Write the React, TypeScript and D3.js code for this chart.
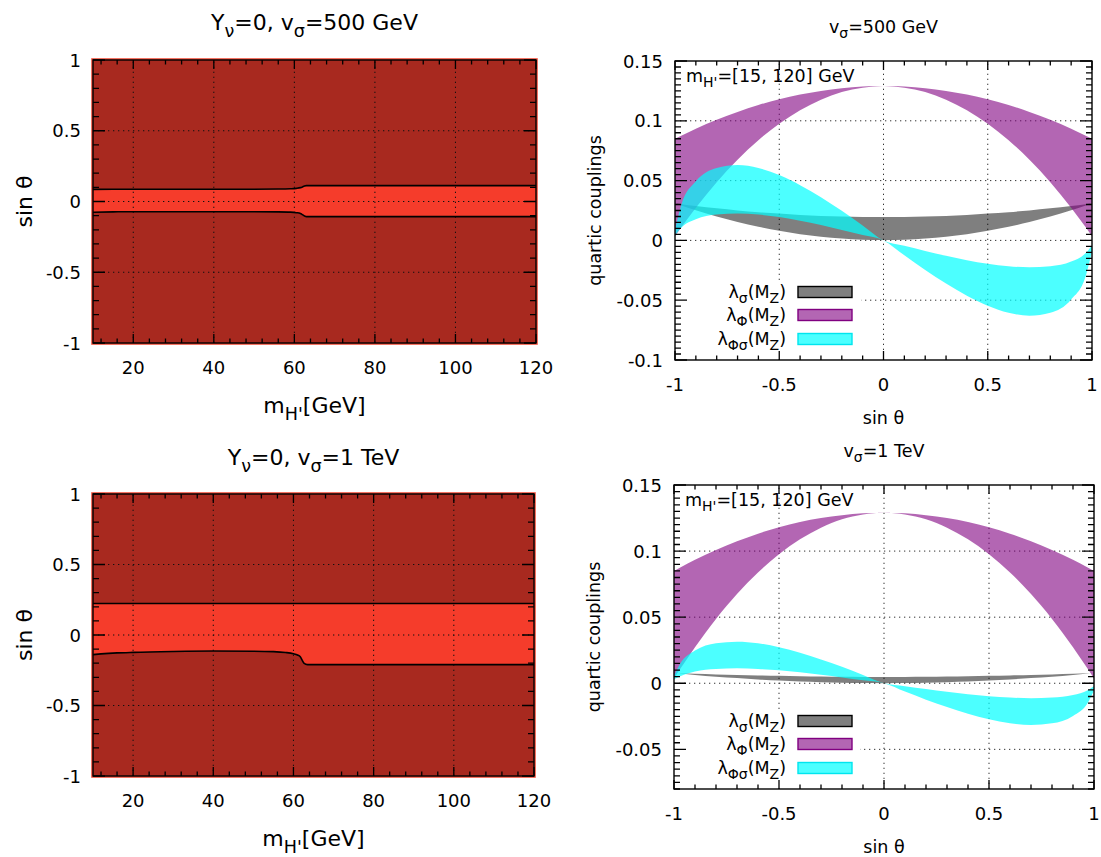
import React from 'react';
import * as d3 from 'd3';

const FONT = '"DejaVu Sans", Verdana, sans-serif';

// ---------- Left panels: allowed band in (m_H', sin theta) ----------
const massTop = [10, 15, 20, 40, 50, 56, 59, 60.5, 61.5, 62, 62.5, 63, 120];
const bandTopUpper = [0.086, 0.087, 0.087, 0.087, 0.087, 0.088, 0.09, 0.093, 0.098, 0.103, 0.109, 0.112, 0.112];
const bandTopLower = [-0.076, -0.073, -0.072, -0.072, -0.072, -0.073, -0.075, -0.079, -0.085, -0.093, -0.102, -0.107, -0.107];

const massBottom = [10, 12, 16, 20, 30, 40, 50, 55, 58, 60, 61, 61.7, 62.2, 62.6, 63.5, 120];
const bandBottomUpper = [0.223, 0.223, 0.223, 0.223, 0.223, 0.223, 0.223, 0.223, 0.223, 0.223, 0.223, 0.223, 0.223, 0.223, 0.223, 0.223];
const bandBottomLower = [-0.139, -0.134, -0.127, -0.123, -0.117, -0.114, -0.115, -0.118, -0.124, -0.133, -0.142, -0.155, -0.18, -0.2, -0.21, -0.21];

const massTicks = [20, 40, 60, 80, 100, 120];
const sinTicks = [-1, -0.5, 0, 0.5, 1];

// ---------- Right panels: quartic couplings vs sin theta ----------
const sinTheta = [-1, -0.97, -0.9, -0.8, -0.7, -0.6, -0.5, -0.4, -0.3, -0.2, -0.1, 0, 0.1, 0.2, 0.3, 0.4, 0.5, 0.6, 0.7, 0.8, 0.9, 0.97, 1];

const lamPhiUpper = [0.085, 0.0876, 0.0934, 0.1008, 0.1074, 0.1132, 0.118, 0.122, 0.125, 0.1272, 0.1286, 0.129, 0.1286, 0.1272, 0.125, 0.122, 0.118, 0.1132, 0.1074, 0.1008, 0.0934, 0.0876, 0.085];
const lamPhiLower = [0.0035, 0.0109, 0.0273, 0.0487, 0.0675, 0.0838, 0.0976, 0.1089, 0.1177, 0.124, 0.1277, 0.129, 0.1277, 0.124, 0.1177, 0.1089, 0.0976, 0.0838, 0.0675, 0.0487, 0.0273, 0.0109, 0.0035];

// v_sigma = 500 GeV
const lamSig500Upper = [0.031, 0.0303, 0.0288, 0.0269, 0.0251, 0.0236, 0.0224, 0.0213, 0.0205, 0.02, 0.0196, 0.0195, 0.0196, 0.02, 0.0205, 0.0213, 0.0224, 0.0236, 0.0251, 0.0269, 0.0288, 0.0303, 0.031];
const lamSig500Lower = [0.031, 0.0292, 0.0252, 0.0199, 0.0153, 0.0114, 0.008, 0.0052, 0.0031, 0.0015, 0.0006, 0.0003, 0.0006, 0.0015, 0.0031, 0.0052, 0.008, 0.0114, 0.0153, 0.0199, 0.0252, 0.0292, 0.031];
const lamPhiSig500Upper = [0.009, 0.0297, 0.0494, 0.0605, 0.063, 0.0605, 0.0546, 0.0462, 0.0361, 0.0247, 0.0125, 0, -0.0045, -0.0088, -0.0129, -0.0165, -0.0195, -0.0216, -0.0225, -0.0216, -0.0177, -0.0106, -0.004];
const lamPhiSig500Lower = [0.004, 0.0106, 0.0177, 0.0216, 0.0225, 0.0216, 0.0195, 0.0165, 0.0129, 0.0088, 0.0045, 0, -0.0125, -0.0247, -0.0361, -0.0462, -0.0546, -0.0605, -0.063, -0.0605, -0.0494, -0.0297, -0.009];

// v_sigma = 1 TeV
const lamSig1000Upper = [0.0078, 0.0076, 0.0072, 0.0067, 0.0063, 0.0059, 0.0056, 0.0053, 0.0051, 0.0049, 0.0048, 0.0048, 0.0048, 0.0049, 0.0051, 0.0053, 0.0056, 0.0059, 0.0063, 0.0067, 0.0072, 0.0076, 0.0078];
const lamSig1000Lower = [0.0078, 0.0073, 0.0063, 0.005, 0.0039, 0.0029, 0.002, 0.0013, 0.0008, 0.0004, 0.0002, 0.0001, 0.0002, 0.0004, 0.0008, 0.0013, 0.002, 0.0029, 0.0039, 0.005, 0.0063, 0.0073, 0.0078];
const lamPhiSig1000Upper = [0.0055, 0.0149, 0.0247, 0.0303, 0.0315, 0.0303, 0.0273, 0.0231, 0.018, 0.0124, 0.0063, 0, -0.0022, -0.0044, -0.0065, -0.0083, -0.0098, -0.0108, -0.0113, -0.0108, -0.0089, -0.0053, -0.002];
const lamPhiSig1000Lower = [0.003, 0.0053, 0.0089, 0.0108, 0.0113, 0.0108, 0.0098, 0.0083, 0.0065, 0.0044, 0.0022, 0, -0.0063, -0.0124, -0.018, -0.0231, -0.0273, -0.0303, -0.0315, -0.0303, -0.0247, -0.0149, -0.0055];

const couplingTicks500 = [-0.1, -0.05, 0, 0.05, 0.1, 0.15];
const couplingTicks1000 = [-0.05, 0, 0.05, 0.1, 0.15];

type Seg = { t: string; sub?: boolean };

function Rich({ x, y, size, anchor = 'middle', segs, rotate = false }: { x: number; y: number; size: number; anchor?: string; segs: Seg[]; rotate?: boolean }) {
  const shift = size * 0.3;
  let lowered = false;
  const parts = segs.map((s, i) => {
    let dy = 0;
    if (s.sub && !lowered) { dy = shift; lowered = true; }
    else if (!s.sub && lowered) { dy = -shift; lowered = false; }
    return (
      <tspan key={i} dy={dy || undefined} fontSize={s.sub ? size * 0.8 : size}>{s.t}</tspan>
    );
  });
  return (
    <text x={x} y={y} fontFamily={FONT} fontSize={size} textAnchor={anchor as any} fill="#000"
      transform={rotate ? `rotate(-90 ${x} ${y})` : undefined}>{parts}</text>
  );
}

function Ticks({ x, y, majX, minX, majY, minY }: any) {
  const [xa, xb] = x.range();
  const [yb, ya] = y.range(); // yb bottom, ya top
  const XM = 9, Xm = 4.5, YM = 12, Ym = 6;
  let d = '';
  const vx = (v: number, L: number) => { const p = x(v); d += `M${p},${yb}v${-L}M${p},${ya}v${L}`; };
  const hy = (v: number, L: number) => { const p = y(v); d += `M${xa},${p}h${L}M${xb},${p}h${-L}`; };
  majX.forEach((v: number) => vx(v, XM));
  minX.forEach((v: number) => vx(v, Xm));
  majY.forEach((v: number) => hy(v, YM));
  minY.forEach((v: number) => hy(v, Ym));
  return <path d={d} stroke="#000" strokeWidth={1.3} fill="none" />;
}

function Grid({ x, y, gx, gy, color = '#000' }: any) {
  const [xa, xb] = x.range();
  const [yb, ya] = y.range();
  let d = '';
  gx.forEach((v: number) => { const p = x(v); d += `M${p},${yb}V${ya}`; });
  gy.forEach((v: number) => { const p = y(v); d += `M${xa},${p}H${xb}`; });
  return <path d={d} stroke={color} strokeWidth={1} strokeDasharray="1.3,3.7" fill="none" />;
}

function fmt(v: number) { return String(+v.toFixed(3)); }

function LeftPanel({ x, y, mass, upper, lower, title, titleY }: any) {
  const [xa, xb] = x.range();
  const [yb, ya] = y.range();
  const area = d3.area<number>().x((_, i) => x(mass[i])).y0((_, i) => y(lower[i])).y1((_, i) => y(upper[i])).curve(d3.curveMonotoneX);
  const line = (arr: number[]) => d3.line<number>().x((_, i) => x(mass[i])).y((_, i) => y(arr[i])).curve(d3.curveMonotoneX)(arr) || '';
  const minX = d3.range(12, 120, 4).filter(v => v % 20 !== 0);
  const minY = d3.range(-10, 11).filter(v => v % 5 !== 0).map(v => v / 10);
  const cx = (xa + xb) / 2, cy = (ya + yb) / 2;
  return (
    <g>
      <rect x={xa - 1} y={ya - 1} width={xb - xa + 2} height={yb - ya + 2} fill="#a8291f" stroke="#f2503c" strokeWidth={1.6} />
      <path d={area(mass) || ''} fill="#f53c2b" />
      <Grid x={x} y={y} gx={[20, 40, 60, 80, 100]} gy={[-0.5, 0, 0.5]} color="#111" />
      <path d={line(upper)} stroke="#000" strokeWidth={1.6} fill="none" />
      <path d={line(lower)} stroke="#000" strokeWidth={1.6} fill="none" />
      <rect x={xa} y={ya} width={xb - xa} height={yb - ya} fill="none" stroke="#000" strokeWidth={1.4} />
      <Ticks x={x} y={y} majX={massTicks} minX={minX} majY={sinTicks} minY={minY} />
      {massTicks.map(v => (
        <text key={'x' + v} x={x(v)} y={yb + 31} fontFamily={FONT} fontSize={18} textAnchor="middle">{fmt(v)}</text>
      ))}
      {sinTicks.map(v => (
        <text key={'y' + v} x={xa - 12} y={y(v) + 6.5} fontFamily={FONT} fontSize={18} textAnchor="end">{fmt(v)}</text>
      ))}
      <Rich x={cx} y={titleY} size={22} segs={title} />
      <Rich x={cx} y={yb + 70} size={22} segs={[{ t: 'm' }, { t: "H'", sub: true }, { t: '[GeV]' }]} />
      <Rich x={32} y={cy} size={22} rotate segs={[{ t: 'sin θ' }]} />
    </g>
  );
}

function RightPanel({ x, y, sig, phi, phisig, yTicks, title, titleY }: any) {
  const [xa, xb] = x.range();
  const [yb, ya] = y.range();
  const mk = (up: number[], lo: number[]) =>
    d3.area<number>().x(s => x(s)).y0((_, i) => y(lo[i])).y1((_, i) => y(up[i])).curve(d3.curveMonotoneX)(sinTheta) || '';
  const minX = d3.range(-10, 11).filter(v => v % 5 !== 0).map(v => v / 10);
  const lo = Math.round(y.domain()[0] * 1000), hi = Math.round(y.domain()[1] * 1000);
  const minY = d3.range(lo, hi + 1, 5).filter(v => v % 50 !== 0).map(v => v / 1000);
  const cx = (xa + xb) / 2, cy = (ya + yb) / 2;
  const legendRows = [
    { segs: [{ t: 'λ' }, { t: 'σ', sub: true }, { t: '(M' }, { t: 'Z', sub: true }, { t: ')' }], fill: '#000', op: 0.5, stroke: '#000' },
    { segs: [{ t: 'λ' }, { t: 'Φ', sub: true }, { t: '(M' }, { t: 'Z', sub: true }, { t: ')' }], fill: '#800080', op: 0.6, stroke: '#800080' },
    { segs: [{ t: 'λ' }, { t: 'Φσ', sub: true }, { t: '(M' }, { t: 'Z', sub: true }, { t: ')' }], fill: '#00ffff', op: 0.7, stroke: '#00e5ee' },
  ];
  const rowY = [yb - 68, yb - 45, yb - 21];
  return (
    <g>
      <Grid x={x} y={y} gx={[-0.5, 0, 0.5]} gy={yTicks.filter((v: number) => v > y.domain()[0] && v < y.domain()[1])} color="#333" />
      <path d={mk(sig[0], sig[1])} fill="#000" fillOpacity={0.5} />
      <path d={mk(phi[0], phi[1])} fill="#800080" fillOpacity={0.6} />
      <path d={mk(phisig[0], phisig[1])} fill="#00ffff" fillOpacity={0.7} />
      <rect x={xa + 1} y={yb - 79} width={185} height={78} fill="#fff" />
      {legendRows.map((r, i) => (
        <g key={i}>
          <Rich x={786} y={rowY[i] + 6} size={17.5} anchor="end" segs={r.segs as Seg[]} />
          <rect x={798} y={rowY[i] - 5.5} width={54} height={11} fill="#fff" />
          <rect x={798} y={rowY[i] - 5.5} width={54} height={11} fill={r.fill} fillOpacity={r.op} stroke={r.stroke} strokeWidth={1.4} />
        </g>
      ))}
      <Rich x={xa + 11} y={ya + 21} size={17.5} anchor="start" segs={[{ t: 'm' }, { t: "H'", sub: true }, { t: '=[15, 120] GeV' }]} />
      <rect x={xa} y={ya} width={xb - xa} height={yb - ya} fill="none" stroke="#000" strokeWidth={1.4} />
      <Ticks x={x} y={y} majX={sinTicks} minX={minX} majY={yTicks} minY={minY} />
      {sinTicks.map(v => (
        <text key={'x' + v} x={x(v)} y={yb + 31} fontFamily={FONT} fontSize={18} textAnchor="middle">{fmt(v)}</text>
      ))}
      {yTicks.map((v: number) => (
        <text key={'y' + v} x={xa - 12} y={y(v) + 6.5} fontFamily={FONT} fontSize={18} textAnchor="end">{fmt(v)}</text>
      ))}
      <Rich x={cx} y={titleY} size={17.5} segs={title} />
      <Rich x={cx} y={yb + 64} size={17.5} segs={[{ t: 'sin θ' }]} />
      <Rich x={xa - 74} y={cy} size={17.5} rotate segs={[{ t: 'quartic couplings' }]} />
    </g>
  );
}

export default function App() {
  const xTL = d3.scaleLinear().domain([10, 120]).range([93, 536]);
  const yTL = d3.scaleLinear().domain([-1, 1]).range([343, 60]);
  const xBL = d3.scaleLinear().domain([10, 120]).range([93, 534]);
  const yBL = d3.scaleLinear().domain([-1, 1]).range([776, 494]);
  const xTR = d3.scaleLinear().domain([-1, 1]).range([675, 1092]);
  const yTR = d3.scaleLinear().domain([-0.1, 0.15]).range([360, 61]);
  const xBR = d3.scaleLinear().domain([-1, 1]).range([674, 1094]);
  const yBR = d3.scaleLinear().domain([-0.08, 0.15]).range([789, 485]);

  return (
    <svg width={1101} height={857} style={{ position: 'absolute', left: 0, top: 0, background: '#fff' }}>
      <rect width={1101} height={857} fill="#fff" />
      <LeftPanel x={xTL} y={yTL} mass={massTop} upper={bandTopUpper} lower={bandTopLower} titleY={30}
        title={[{ t: 'Y' }, { t: 'ν', sub: true }, { t: '=0, v' }, { t: 'σ', sub: true }, { t: '=500 GeV' }]} />
      <LeftPanel x={xBL} y={yBL} mass={massBottom} upper={bandBottomUpper} lower={bandBottomLower} titleY={465}
        title={[{ t: 'Y' }, { t: 'ν', sub: true }, { t: '=0, v' }, { t: 'σ', sub: true }, { t: '=1 TeV' }]} />
      <RightPanel x={xTR} y={yTR} yTicks={couplingTicks500} titleY={33}
        sig={[lamSig500Upper, lamSig500Lower]} phi={[lamPhiUpper, lamPhiLower]} phisig={[lamPhiSig500Upper, lamPhiSig500Lower]}
        title={[{ t: 'v' }, { t: 'σ', sub: true }, { t: '=500 GeV' }]} />
      <RightPanel x={xBR} y={yBR} yTicks={couplingTicks1000} titleY={457}
        sig={[lamSig1000Upper, lamSig1000Lower]} phi={[lamPhiUpper, lamPhiLower]} phisig={[lamPhiSig1000Upper, lamPhiSig1000Lower]}
        title={[{ t: 'v' }, { t: 'σ', sub: true }, { t: '=1 TeV' }]} />
    </svg>
  );
}
